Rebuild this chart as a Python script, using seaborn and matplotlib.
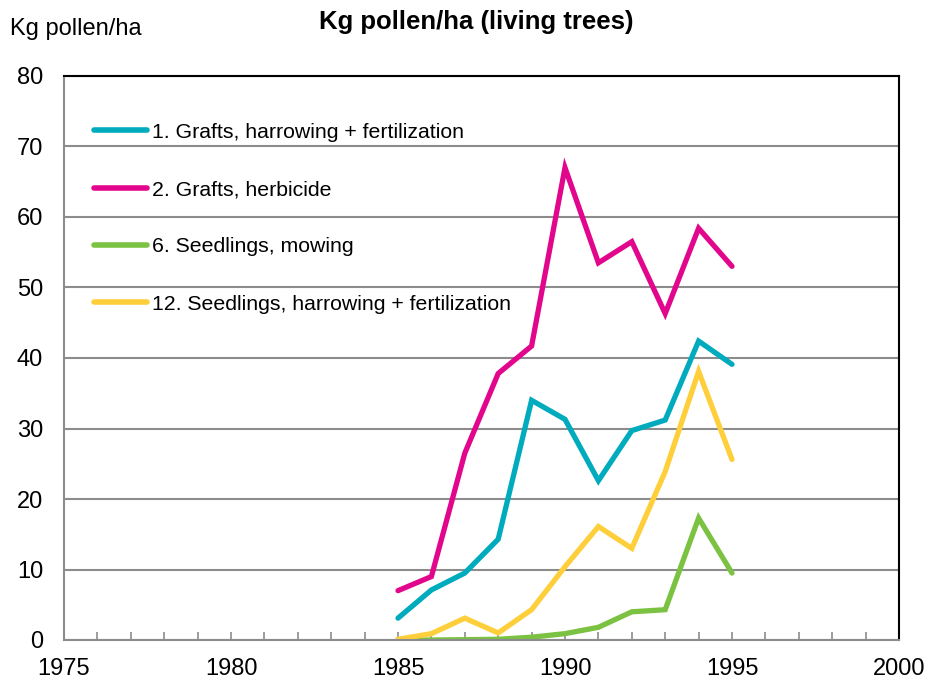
import pandas as pd
import matplotlib.pyplot as plt
import seaborn as sns
from matplotlib.ticker import MultipleLocator

# Data
years = [1985, 1986, 1987, 1988, 1989, 1990, 1991, 1992, 1993, 1994, 1995]
grafts_harrow = [3.1, 7.1, 9.5, 14.3, 34.0, 31.3, 22.6, 29.7, 31.2, 42.4, 39.1]
grafts_herbicide = [7.0, 9.0, 26.5, 37.8, 41.7, 67.0, 53.5, 56.5, 46.3, 58.4, 53.0]
seedlings_mowing = [0.0, 0.0, 0.05, 0.1, 0.4, 0.9, 1.8, 4.0, 4.3, 17.3, 9.5]
seedlings_harrow = [0.1, 0.9, 3.1, 1.0, 4.3, 10.4, 16.1, 13.0, 23.9, 38.1, 25.6]

labels = [
    '1. Grafts, harrowing + fertilization',
    '2. Grafts, herbicide',
    '6. Seedlings, mowing',
    '12. Seedlings, harrowing + fertilization',
]
series = [grafts_harrow, grafts_herbicide, seedlings_mowing, seedlings_harrow]
colors = ['#00abbd', '#e2068c', '#7cc242', '#fecf3a']

rows = []
for lab, vals in zip(labels, series):
    for y, v in zip(years, vals):
        rows.append({'Year': y, 'Kg': v, 'Series': lab})
df = pd.DataFrame(rows)

sns.set_style("white")
plt.rcParams['font.family'] = ['Liberation Sans', 'DejaVu Sans']
plt.rcParams['text.color'] = 'black'
plt.rcParams['xtick.color'] = 'black'
plt.rcParams['ytick.color'] = 'black'

fig = plt.figure(figsize=(9.29, 6.84), dpi=100)
ax = fig.add_axes([64 / 929, 44 / 684, 835 / 929, 564 / 684])

ax.yaxis.grid(True, color='#8c8c8c', linewidth=1.5)
ax.set_axisbelow(True)

sns.lineplot(data=df, x='Year', y='Kg', hue='Series', hue_order=labels,
             palette=dict(zip(labels, colors)), linewidth=3.8,
             solid_capstyle='round', solid_joinstyle='miter', ax=ax)

ax.set_xlim(1975, 2000)
ax.set_ylim(0, 80)
ax.xaxis.set_major_locator(MultipleLocator(5))
ax.xaxis.set_minor_locator(MultipleLocator(1))
ax.yaxis.set_major_locator(MultipleLocator(10))
ax.tick_params(axis='x', which='both', direction='in', length=6, width=1.2,
               color='#8c8c8c', labelcolor='black', bottom=True,
               labelsize=17, pad=13)
ax.tick_params(axis='y', which='major', length=0, labelcolor='black',
               left=True, labelsize=17, pad=15)
ax.set_xlabel('')
ax.set_ylabel('')

for side in ['left', 'bottom']:
    ax.spines[side].set_color('#8c8c8c')
    ax.spines[side].set_linewidth(1.5)
for side in ['top', 'right']:
    ax.spines[side].set_color('black')
    ax.spines[side].set_linewidth(1.5)

leg = ax.legend(loc='upper left', bbox_to_anchor=(0.026, 0.932), frameon=False,
                fontsize=15.3, handlelength=2.5, handletextpad=0.24,
                labelspacing=1.8, borderaxespad=0)
for text in leg.get_texts():
    text.set_color('black')
for line in leg.get_lines():
    line.set_linewidth(4)
    line.set_solid_capstyle('round')

fig.text(476 / 929, 1 - 22 / 684, 'Kg pollen/ha (living trees)', ha='center',
         va='center', fontsize=18.5, fontweight='bold', color='black')
fig.text(10 / 929, 1 - 29 / 684, 'Kg pollen/ha', ha='left', va='center',
         fontsize=17, color='black')

fig.savefig('out.png', dpi=100, facecolor='white')
